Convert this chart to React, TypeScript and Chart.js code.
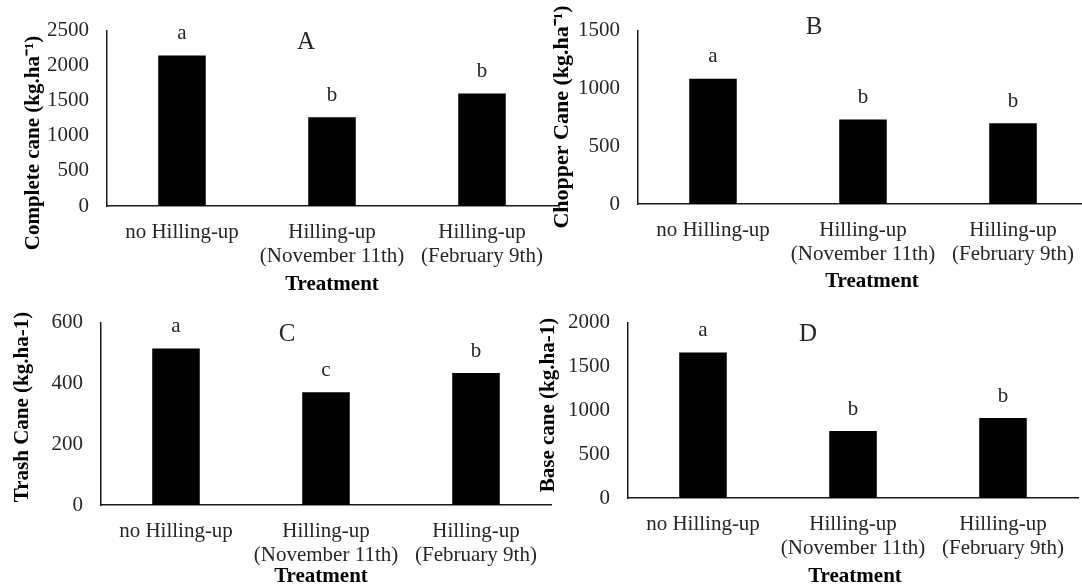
import React, { useEffect, useRef } from "react";
import { Chart, registerables } from "chart.js";
Chart.register(...registerables);

// ---------- data ----------
const categories: string[][] = [
  ["no Hilling-up"],
  ["Hilling-up", "(November 11th)"],
  ["Hilling-up", "(February 9th)"],
];

const completeCane = [2145, 1264, 1605];
const completeLetters = ["a", "b", "b"];
const completeTicks = [0, 500, 1000, 1500, 2000, 2500];

const chopperCane = [1083, 730, 698];
const chopperLetters = ["a", "b", "b"];
const chopperTicks = [0, 500, 1000, 1500];

const trashCane = [515, 371, 434];
const trashLetters = ["a", "c", "b"];
const trashTicks = [0, 200, 400, 600];

const baseCane = [1658, 763, 912];
const baseLetters = ["a", "b", "b"];
const baseTicks = [0, 500, 1000, 1500, 2000];

const xTitle = "Treatment";

// ---------- layout / style (page coordinates) ----------
type Box = { left: number; top: number; width: number; height: number };
type Area = { left: number; right: number; top: number; bottom: number };
type Pt = { x: number; y: number };
type PanelCfg = {
  values: number[];
  letters: string[];
  ticks: number[];
  panelLetter: string;
  yTitle: string;
  yTitleSize: number;
  canvas: Box;
  area: Area;
  letterPos: Pt;
  yTitlePos: Pt;
  xTitlePos: Pt;
};

const FONT = "'Liberation Serif', 'Times New Roman', serif";
const TICK_COLOR = "#262626";
const TITLE_COLOR = "#000";
const X_AXIS_HEIGHT = 70;

const panels: PanelCfg[] = [
  {
    values: completeCane, letters: completeLetters, ticks: completeTicks,
    panelLetter: "A", yTitle: "Complete cane (kg.ha\u207B\u00B9)", yTitleSize: 21,
    canvas: { left: 0, top: 0, width: 560, height: 292 },
    area: { left: 107, right: 557, top: 30, bottom: 206 },
    letterPos: { x: 306, y: 42 }, yTitlePos: { x: 34, y: 143 }, xTitlePos: { x: 332, y: 285 },
  },
  {
    values: chopperCane, letters: chopperLetters, ticks: chopperTicks,
    panelLetter: "B", yTitle: "Chopper Cane (kg.ha\u207B\u00B9)", yTitleSize: 22,
    canvas: { left: 541, top: 0, width: 560, height: 292 },
    area: { left: 638, right: 1088, top: 17, bottom: 204 },
    letterPos: { x: 814, y: 27 }, yTitlePos: { x: 562, y: 117 }, xTitlePos: { x: 872, y: 282 },
  },
  {
    values: trashCane, letters: trashLetters, ticks: trashTicks,
    panelLetter: "C", yTitle: "Trash Cane (kg.ha-1)", yTitleSize: 21,
    canvas: { left: 0, top: 292, width: 560, height: 293 },
    area: { left: 101, right: 551, top: 312, bottom: 505 },
    letterPos: { x: 287, y: 334 }, yTitlePos: { x: 23, y: 407 }, xTitlePos: { x: 321, y: 577 },
  },
  {
    values: baseCane, letters: baseLetters, ticks: baseTicks,
    panelLetter: "D", yTitle: "Base cane (kg.ha-1)", yTitleSize: 21,
    canvas: { left: 521, top: 292, width: 561, height: 293 },
    area: { left: 628, right: 1078, top: 312, bottom: 498 },
    letterPos: { x: 808, y: 334 }, yTitlePos: { x: 549, y: 405 }, xTitlePos: { x: 855, y: 577 },
  },
];

function makeChart(canvas: HTMLCanvasElement, p: PanelCfg) {
  const c = p.canvas;
  const a = p.area;
  const relLeft = a.left - c.left;
  const relRight = a.right - c.left;
  const relTop = a.top - c.top;
  const relBottom = a.bottom - c.top;

  const annot = {
    id: "annot" + p.panelLetter,
    afterDatasetsDraw(chart: any) {
      const ctx = chart.ctx as CanvasRenderingContext2D;
      const xs = chart.scales.x;
      const ys = chart.scales.y;
      ctx.save();
      // significance letters
      ctx.fillStyle = TICK_COLOR;
      ctx.font = `21px ${FONT}`;
      ctx.textAlign = "center";
      ctx.textBaseline = "middle";
      p.values.forEach((v, i) => {
        ctx.fillText(p.letters[i], xs.getPixelForValue(i), ys.getPixelForValue(v) - 22);
      });
      // panel letter
      ctx.font = `25px ${FONT}`;
      ctx.fillText(p.panelLetter, p.letterPos.x - c.left, p.letterPos.y - c.top);
      // x title
      ctx.fillStyle = TITLE_COLOR;
      ctx.font = `bold 21px ${FONT}`;
      ctx.fillText(xTitle, p.xTitlePos.x - c.left, p.xTitlePos.y - c.top);
      // y title
      ctx.font = `bold ${p.yTitleSize}px ${FONT}`;
      ctx.translate(p.yTitlePos.x - c.left, p.yTitlePos.y - c.top);
      ctx.rotate(-Math.PI / 2);
      ctx.fillText(p.yTitle, 0, 0);
      ctx.restore();
    },
  };

  return new Chart(canvas, {
    type: "bar",
    data: {
      labels: categories as any,
      datasets: [
        {
          data: p.values,
          backgroundColor: "#000",
          borderWidth: 0,
          barPercentage: 0.317,
          categoryPercentage: 1,
        },
      ],
    },
    options: {
      responsive: false,
      animation: false,
      devicePixelRatio: 1,
      layout: {
        autoPadding: false,
        padding: {
          left: 0,
          right: c.width - relRight,
          top: relTop,
          bottom: c.height - relBottom - X_AXIS_HEIGHT,
        },
      },
      plugins: {
        legend: { display: false },
        tooltip: { enabled: false },
        title: { display: false },
      },
      scales: {
        x: {
          grid: { display: false, drawTicks: false },
          border: { display: true, color: "#1a1a1a", width: 1.5 },
          ticks: {
            color: TICK_COLOR,
            font: { family: FONT, size: 21, lineHeight: 1.17 },
            padding: 14,
            maxRotation: 0,
            minRotation: 0,
            autoSkip: false,
          },
          afterFit: (s: any) => {
            s.height = X_AXIS_HEIGHT;
          },
        },
        y: {
          min: p.ticks[0],
          max: p.ticks[p.ticks.length - 1],
          grid: { display: false, drawTicks: false },
          border: { display: true, color: "#1a1a1a", width: 1.5 },
          ticks: {
            stepSize: p.ticks[1] - p.ticks[0],
            color: TICK_COLOR,
            font: { family: FONT, size: 21 },
            padding: 18,
            callback: (v: any) => String(v),
          },
          afterFit: (s: any) => {
            s.width = relLeft;
          },
        },
      },
    } as any,
    plugins: [annot],
  });
}

function Panel({ cfg }: { cfg: PanelCfg }) {
  const ref = useRef<HTMLCanvasElement>(null);
  useEffect(() => {
    const chart = makeChart(ref.current!, cfg);
    return () => chart.destroy();
  }, [cfg]);
  return (
    <canvas
      ref={ref}
      width={cfg.canvas.width}
      height={cfg.canvas.height}
      style={{
        position: "absolute",
        left: cfg.canvas.left,
        top: cfg.canvas.top,
        width: cfg.canvas.width,
        height: cfg.canvas.height,
      }}
    />
  );
}

export default function App() {
  return (
    <div
      style={{
        position: "absolute",
        left: 0,
        top: 0,
        width: 1082,
        height: 585,
        overflow: "hidden",
        background: "#fff",
      }}
    >
      {panels.map((p) => (
        <Panel key={p.panelLetter} cfg={p} />
      ))}
    </div>
  );
}
